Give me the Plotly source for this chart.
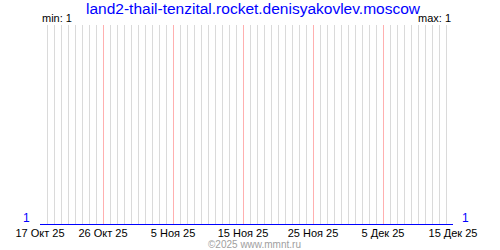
import plotly.graph_objects as go

dates = ["2025-10-17", "2025-10-18", "2025-10-19", "2025-10-20", "2025-10-21", "2025-10-22",
         "2025-10-23", "2025-10-24", "2025-10-25", "2025-10-26", "2025-10-27", "2025-10-28",
         "2025-10-29", "2025-10-30", "2025-10-31", "2025-11-01", "2025-11-02", "2025-11-03",
         "2025-11-04", "2025-11-05", "2025-11-06", "2025-11-07", "2025-11-08", "2025-11-09",
         "2025-11-10", "2025-11-11", "2025-11-12", "2025-11-13", "2025-11-14", "2025-11-15",
         "2025-11-16", "2025-11-17", "2025-11-18", "2025-11-19", "2025-11-20", "2025-11-21",
         "2025-11-22", "2025-11-23", "2025-11-24", "2025-11-25", "2025-11-26", "2025-11-27",
         "2025-11-28", "2025-11-29", "2025-11-30", "2025-12-01", "2025-12-02", "2025-12-03",
         "2025-12-04", "2025-12-05", "2025-12-06", "2025-12-07", "2025-12-08", "2025-12-09",
         "2025-12-10", "2025-12-11", "2025-12-12", "2025-12-13", "2025-12-14", "2025-12-15"]
values = [1, 1, 1, 1, 1, 1, 1, 1, 1, 1, 1, 1, 1, 1, 1, 1, 1, 1, 1, 1,
          1, 1, 1, 1, 1, 1, 1, 1, 1, 1, 1, 1, 1, 1, 1, 1, 1, 1, 1, 1,
          1, 1, 1, 1, 1, 1, 1, 1, 1, 1, 1, 1, 1, 1, 1, 1, 1, 1, 1, 1]
tick_dates = ["2025-10-17", "2025-10-26", "2025-11-05", "2025-11-15",
              "2025-11-25", "2025-12-05", "2025-12-15"]
tick_labels = ["17 Окт 25", "26 Окт 25", "5 Ноя 25", "15 Ноя 25",
               "25 Ноя 25", "5 Дек 25", "15 Дек 25"]
title_text = "land2-thail-tenzital.rocket.denisyakovlev.moscow"
min_val = 1
max_val = 1

FONT = "Liberation Sans"

day_dates = [d for d in dates if d not in tick_dates]

fig = go.Figure()
fig.add_trace(go.Scatter(x=dates, y=values, mode="lines",
                         line=dict(color="#0000ff", width=2),
                         hoverinfo="skip", showlegend=False))

fig.update_layout(
    width=500, height=250,
    margin=dict(l=40, r=47, t=25, b=25, pad=0),
    paper_bgcolor="white", plot_bgcolor="white",
    font=dict(family=FONT, size=11, color="black"),
    title=dict(text=title_text, x=0.506, xanchor="center", y=0.966, yanchor="middle",
               xref="container", yref="container",
               font=dict(family=FONT, size=15.5, color="#0000ff")),
    xaxis=dict(
        type="date",
        range=[dates[0], dates[-1]],
        tickmode="array", tickvals=tick_dates, ticktext=tick_labels,
        showgrid=True, gridcolor="#ffb0b0", gridwidth=1,
        ticks="", showline=False, zeroline=False,
        tickfont=dict(family=FONT, size=11, color="black"),
        minor=dict(tickmode="array", tickvals=day_dates, showgrid=True,
                   gridcolor="#dadada", gridwidth=1, ticks=""),
    ),
    yaxis=dict(range=[min_val, min_val + 1], showgrid=False, showticklabels=False,
               zeroline=False, showline=False, ticks=""),
    hovermode=False,
)

fig.add_annotation(text=f"min: {min_val}", xref="paper", yref="paper", x=0, y=1,
                   xanchor="left", yanchor="bottom", yshift=-1, showarrow=False,
                   font=dict(family=FONT, size=11, color="black"))
fig.add_annotation(text=f"max: {max_val}", xref="paper", yref="paper", x=1, y=1,
                   xanchor="right", yanchor="bottom", yshift=-1, showarrow=False,
                   font=dict(family=FONT, size=11, color="black"))
fig.add_annotation(text=str(min_val), xref="paper", yref="y", x=0, y=min_val,
                   xanchor="right", yanchor="bottom", xshift=-8, yshift=-2, showarrow=False,
                   font=dict(family=FONT, size=12, color="#0000ff"))
fig.add_annotation(text=str(max_val), xref="paper", yref="y", x=1, y=min_val,
                   xanchor="left", yanchor="bottom", xshift=7, yshift=-2, showarrow=False,
                   font=dict(family=FONT, size=12, color="#0000ff"))
fig.add_annotation(text="©2025 www.mmnt.ru", xref="paper", yref="paper", x=0.52, y=-0.095,
                   xanchor="center", yanchor="middle", showarrow=False,
                   font=dict(family=FONT, size=10, color="#a0a0a0"))

fig.write_html("out.html", config={"displayModeBar": False})
